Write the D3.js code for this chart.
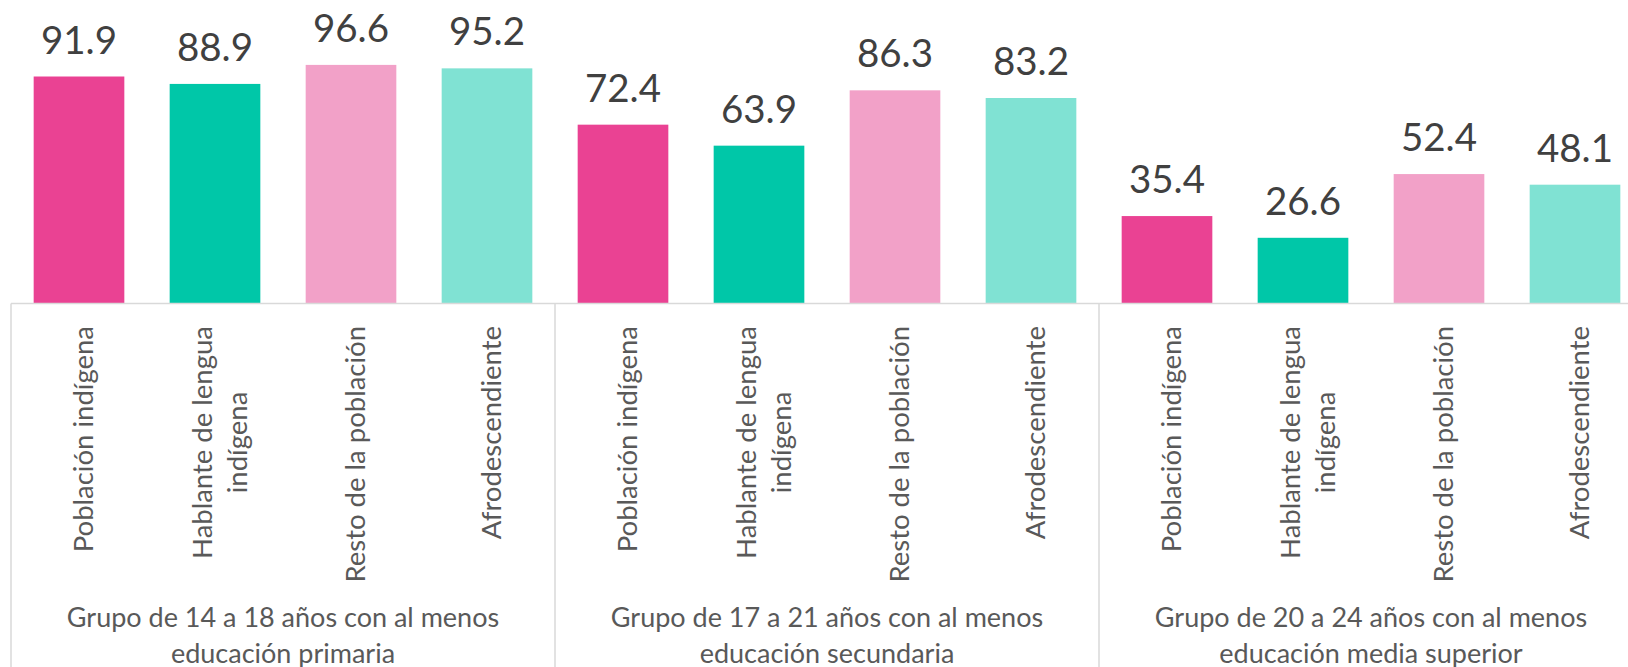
<!DOCTYPE html>
<html>
<head>
<meta charset="utf-8">
<script src="https://cdn.jsdelivr.net/npm/d3@7"></script>
<style>
  body { margin: 0; background: #fff; }
  svg { display: block; font-family: Lato, "Open Sans", sans-serif; }
</style>
</head>
<body>
<svg id="chart" width="1628" height="667"></svg>
<script>
// data
var groupLabels = [
  ["Grupo de 14 a 18 años con al menos", "educación primaria"],
  ["Grupo de 17 a 21 años con al menos", "educación secundaria"],
  ["Grupo de 20 a 24 años con al menos", "educación media superior"]
];
var categories = [
  ["Población indígena"],
  ["Hablante de lengua", "indígena"],
  ["Resto de la población"],
  ["Afrodescendiente"]
];
var primaria = [91.9, 88.9, 96.6, 95.2];
var secundaria = [72.4, 63.9, 86.3, 83.2];
var mediaSuperior = [35.4, 26.6, 52.4, 48.1];
var colors = ["#EA4293", "#00C7A8", "#F2A1C8", "#80E2D3"];

var series = [primaria, secundaria, mediaSuperior];

// flatten into one row per bar
var rows = [];
series.forEach(function(vals, g) {
  vals.forEach(function(v, c) {
    rows.push({ key: g * 4 + c, group: g, cat: c, value: v });
  });
});

var svg = d3.select('#chart');
var baseY = 303.5;

var x = d3.scaleBand()
  .domain(rows.map(function(d) { return d.key; }))
  .range([11, 1643])
  .paddingInner(1 / 3)
  .paddingOuter(1 / 6);

var y = d3.scaleLinear().domain([0, 100]).range([baseY, 56.5]);

// bars
svg.selectAll('rect.bar')
  .data(rows)
  .enter().append('rect')
  .attr('class', 'bar')
  .attr('x', function(d) { return x(d.key); })
  .attr('y', function(d) { return y(d.value); })
  .attr('width', x.bandwidth())
  .attr('height', function(d) { return y(0) - y(d.value); })
  .attr('fill', function(d) { return colors[d.cat]; });

// value labels
svg.selectAll('text.val')
  .data(rows)
  .enter().append('text')
  .attr('class', 'val')
  .attr('x', function(d) { return x(d.key) + x.bandwidth() / 2; })
  .attr('y', function(d) { return y(d.value) - 23; })
  .attr('text-anchor', 'middle')
  .attr('font-size', 38.5)
  .attr('fill', '#404040')
  .text(function(d) { return d.value.toFixed(1); });

// category axis box
var axisColor = '#D9D9D9';
svg.append('line')
  .attr('x1', x.range()[0]).attr('x2', x.range()[1])
  .attr('y1', baseY).attr('y2', baseY)
  .attr('stroke', axisColor).attr('stroke-width', 1.5);

var step = x.step();
var groupEdges = d3.range(groupLabels.length + 1).map(function(i) {
  return x.range()[0] + i * 4 * step;
});
svg.selectAll('line.div')
  .data(groupEdges)
  .enter().append('line')
  .attr('class', 'div')
  .attr('x1', function(d) { return d; }).attr('x2', function(d) { return d; })
  .attr('y1', baseY).attr('y2', 667)
  .attr('stroke', axisColor).attr('stroke-width', 1.5);

// rotated category labels, top aligned, lines centred on each other
var catSize = 27.5, lineH = 35, labelTop = 326;
rows.forEach(function(d) {
  var lines = categories[d.cat];
  var cx = x(d.key) + x.bandwidth() / 2;
  var g = svg.append('g');
  var texts = lines.map(function(t, i) {
    return g.append('text')
      .attr('text-anchor', 'middle')
      .attr('font-size', catSize)
      .attr('fill', '#595959')
      .attr('y', 14 + (i - (lines.length - 1) / 2) * lineH)
      .text(t);
  });
  var maxLen = d3.max(texts, function(t) { return t.node().getComputedTextLength(); });
  g.attr('transform', 'translate(' + cx + ',' + (labelTop + maxLen / 2) + ') rotate(-90)');
});

// group labels
groupLabels.forEach(function(lines, i) {
  var cx = (groupEdges[i] + groupEdges[i + 1]) / 2;
  lines.forEach(function(t, j) {
    svg.append('text')
      .attr('x', cx)
      .attr('y', 627 + j * 36)
      .attr('text-anchor', 'middle')
      .attr('font-size', 27)
      .attr('fill', '#595959')
      .text(t);
  });
});
</script>
</body>
</html>
